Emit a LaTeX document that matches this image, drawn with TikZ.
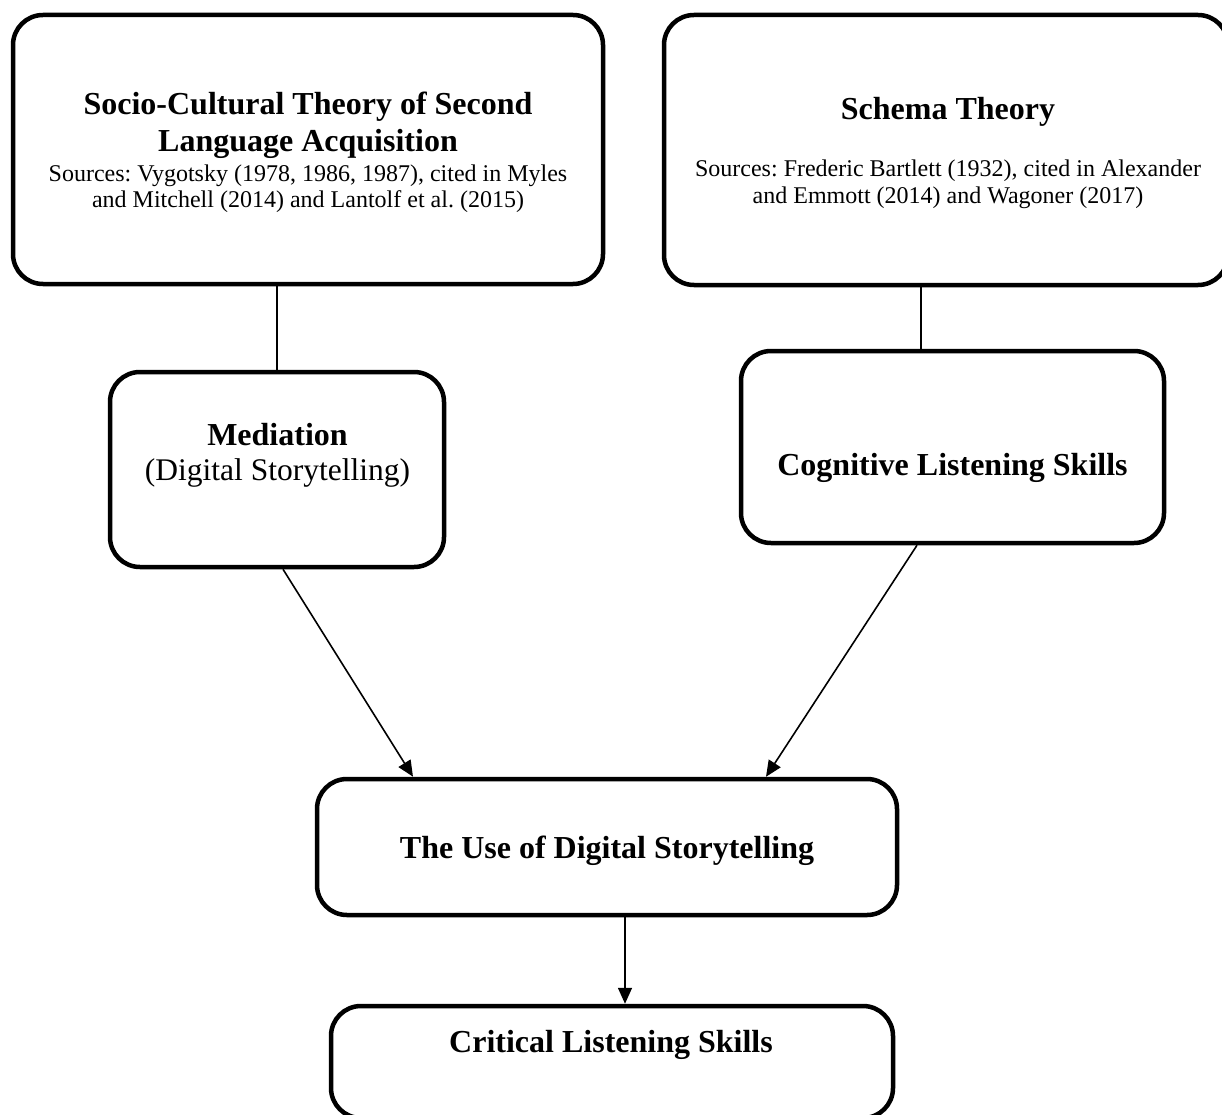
\documentclass[tikz,border=0pt]{standalone}
\usepackage{fontspec}
\setmainfont{Liberation Serif}
\usetikzlibrary{arrows.meta}
\frenchspacing
\tikzset{
  box/.style={draw, line width=4.5pt, rounded corners=30pt, inner sep=0pt},
  ttl/.style={font=\bfseries\fontsize{32}{37}\selectfont, anchor=base, inner sep=0pt},
  reg/.style={font=\fontsize{31.5}{37}\selectfont, anchor=base, inner sep=0pt},
  src/.style={font=\fontsize{24}{27}\selectfont, anchor=base, inner sep=0pt},
  conn/.style={line width=1.6pt},
  arr/.style={conn, -{Triangle[length=16pt,width=14pt]}}
}
\begin{document}
\begin{tikzpicture}[x=1pt,y=-1pt]
\useasboundingbox (0,0) rectangle (1222,1115);

% boxes
\node[box, minimum width=590pt, minimum height=269pt] (A) at (308,149.5) {};
\node[box, minimum width=564pt, minimum height=270pt] (B) at (946,150) {};
\node[box, minimum width=334pt, minimum height=195pt] (C) at (277,469.5) {};
\node[box, minimum width=423pt, minimum height=192pt] (D) at (952.5,447) {};
\node[box, minimum width=580pt, minimum height=136pt] (E) at (607,847) {};
\node[box, minimum width=562pt, minimum height=112pt] (F) at (612,1062) {};

% texts
\node[ttl] (a1) at (308,115) {Socio-Cultural Theory of Second};
\node[ttl] (a2) at (308,152) {Language Acquisition};
\node[src] (a3) at (308,182) {Sources: Vygotsky (1978, 1986, 1987), cited in Myles};
\node[src] (a4) at (308,208) {and Mitchell (2014) and Lantolf et al. (2015)};

\node[ttl] (b1) at (948,120) {Schema Theory};
\node[src] (b2) at (948,177) {Sources: Frederic Bartlett (1932), cited in Alexander};
\node[src] (b3) at (948,204) {and Emmott (2014) and Wagoner (2017)};

\node[ttl] (c1) at (277.5,445) {Mediation};
\node[reg] (c2) at (277.5,480) {(Digital Storytelling)};

\node[ttl] (d1) at (952.5,475) {Cognitive Listening Skills};

\node[ttl] (e1) at (607,858) {The Use of Digital Storytelling};

\node[ttl] (f1) at (611,1052) {Critical Listening Skills};

% connectors
\draw[conn] (A.south -| C.north) -- (C.north);
\draw[conn] ([xshift=-25pt]B.south) -- ([xshift=-31.5pt]D.north);
\draw[arr] ([xshift=6pt]C.south) -- ([xshift=-194pt]E.north);
\draw[arr] ([xshift=-35.5pt]D.south) -- ([xshift=159pt]E.north);
\draw[arr] ([xshift=18pt]E.south) -- ([xshift=13pt]F.north);
\end{tikzpicture}
\end{document}
